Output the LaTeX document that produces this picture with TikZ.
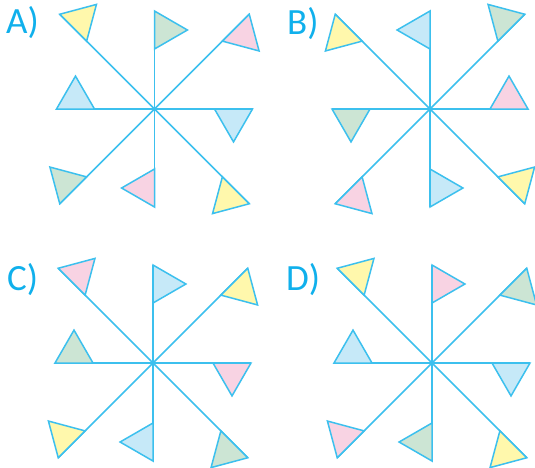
\documentclass[tikz,border=0pt]{standalone}
\usepackage{fontspec}
\setmainfont{Carlito}
\usetikzlibrary{calc}
\definecolor{linec}{HTML}{3CC0EE}
\definecolor{labc}{HTML}{10B0EC}
\definecolor{fy}{HTML}{FFF8AC}
\definecolor{fg}{HTML}{CCE5D4}
\definecolor{fp}{HTML}{F8D3E3}
\definecolor{fb}{HTML}{C6E9F8}
\tikzset{
  spoke/.style={draw=linec, line width=1.5pt},
  flag/.style={draw=linec, line width=1.5pt, line join=miter},
  lab/.style={text=labc, font=\fontsize{37}{37}\selectfont, inner sep=0pt, anchor=base west}
}
\newcommand\pinwheel[3]{%
  \foreach \a/\c in {#3} {
    \pgfmathsetmacro\L{ifthenelse(mod(\a,90)==0,98,134)}
    \draw[spoke] (#1) -- ++(\a:\L) coordinate (e);
  }
  \foreach \a/\c in {#3} {
    \pgfmathsetmacro\L{ifthenelse(mod(\a,90)==0,98,134)}
    \path (#1) ++(\a:\L) coordinate (e);
    \filldraw[flag, fill=\c] (e) -- ++(\a+180:38) -- ++(\a+60*#2:38) -- cycle;
  }
}
\begin{document}
\begin{tikzpicture}[x=1pt,y=-1pt]
\useasboundingbox (0,0) rectangle (535,467);
\clip (0,0) rectangle (535,467);
\fill[white] (0,0) rectangle (535,467);
\coordinate (ca) at (154.5,109);
\coordinate (cb) at (430,109);
\coordinate (cc) at (153,363);
\coordinate (cd) at (432,363);
\pinwheel{ca}{1}{270/fg,315/fp,0/fb,45/fy,90/fp,135/fg,180/fb,225/fy}
\pinwheel{cb}{-1}{270/fb,315/fg,0/fp,45/fy,90/fb,135/fp,180/fg,225/fy}
\pinwheel{cc}{1}{270/fb,315/fy,0/fp,45/fg,90/fb,135/fy,180/fg,225/fp}
\pinwheel{cd}{1}{270/fp,315/fg,0/fb,45/fy,90/fg,135/fp,180/fb,225/fy}
\node[lab] (la) at (6,33.5) {A)};
\node[lab] (lb) at (287,34.5) {B)};
\node[lab] (lc) at (7,290) {C)};
\node[lab] (ld) at (286,290) {D)};
\end{tikzpicture}
\end{document}
